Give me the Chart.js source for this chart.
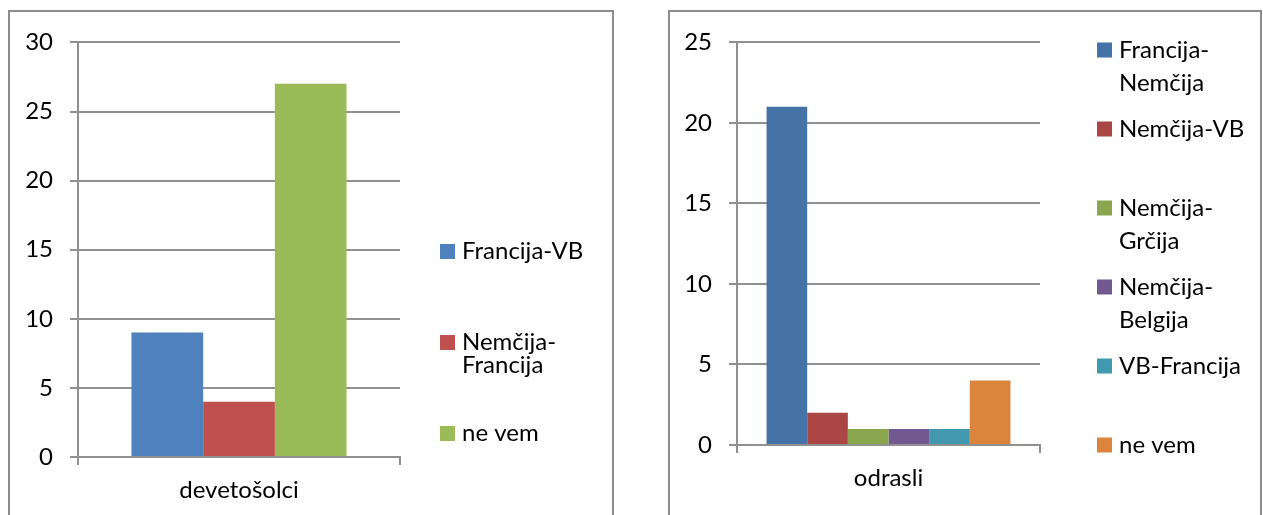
<!DOCTYPE html>
<html>
<head>
<meta charset="utf-8">
<script src="https://cdn.jsdelivr.net/npm/chart.js@4"></script>
<style>
body { margin: 0; background: #fff; width: 1263px; height: 515px; overflow: hidden; position: relative; }
.box { position: absolute; top: 10px; height: 520px; border: 2px solid #8c8c8c; border-bottom: none; box-sizing: border-box; }
#boxL { left: 8px; width: 606px; }
#boxR { left: 668px; width: 594px; }
canvas { position: absolute; }
</style>
</head>
<body>
<div class="box" id="boxL"></div>
<div class="box" id="boxR"></div>
<canvas id="chartL" style="left:10px;top:11px" width="603" height="504"></canvas>
<canvas id="chartR" style="left:670px;top:11px" width="590" height="504"></canvas>
<script>
// left chart: devetošolci
const categoriesL = ['devetošolci'];
const seriesL = ['Francija-VB', 'Nemčija-Francija', 'ne vem'];
const valuesL = [9, 4, 27];
const colorsL = ['#4F81BD', '#C0504D', '#9BBB59'];

// right chart: odrasli
const categoriesR = ['odrasli'];
const seriesR = ['Francija-Nemčija', 'Nemčija-VB', 'Nemčija-Grčija', 'Nemčija-Belgija', 'VB-Francija', 'ne vem'];
const valuesR = [21, 2, 1, 1, 1, 4];
const colorsR = ['#4572A7', '#AA4643', '#89A54E', '#71588F', '#4198AF', '#DB843D'];

Chart.defaults.font.family = 'Lato';
Chart.defaults.color = '#000';

const gridColor = '#909090';
const fontSize = 24;

function wrapLabel(ctx, text, maxWidth) {
    if (ctx.measureText(text).width <= maxWidth) return [text];
    const i = text.indexOf('-');
    if (i < 0) return [text];
    return [text.slice(0, i + 1), text.slice(i + 1)];
}

// excel style legend: items spread down the right side
const sideLegend = {
    id: 'sideLegend',
    afterDraw(chart, args, opts) {
        const ctx = chart.ctx;
        ctx.save();
        ctx.font = fontSize + 'px Lato';
        ctx.textBaseline = 'middle';
        ctx.textAlign = 'left';
        chart.data.datasets.forEach((ds, i) => {
            const cy = opts.firstY + i * opts.step;
            ctx.fillStyle = ds.backgroundColor;
            ctx.fillRect(opts.x, cy - 7.5, 15, 15);
            ctx.fillStyle = '#000';
            const lines = wrapLabel(ctx, ds.label, opts.maxWidth);
            lines.forEach((ln, j) => {
                ctx.fillText(ln, opts.x + 22, cy + j * opts.lineHeight);
            });
        });
        ctx.restore();
    }
};

function makeChart(id, categories, series, values, colors, yMax, pad, xHeight, catPct, legend) {
    const datasets = series.map((name, i) => ({
        label: name,
        data: [values[i]],
        backgroundColor: colors[i],
        borderWidth: 0,
        categoryPercentage: catPct,
        barPercentage: 1
    }));
    return new Chart(document.getElementById(id), {
        type: 'bar',
        data: { labels: categories, datasets: datasets },
        plugins: [sideLegend],
        options: {
            responsive: false,
            animation: false,
            layout: { padding: { left: 0, top: pad.top, right: pad.right, bottom: 0 } },
            plugins: {
                legend: { display: false },
                tooltip: { enabled: false },
                sideLegend: legend
            },
            scales: {
                x: {
                    offset: true,
                    grid: { offset: true, drawOnChartArea: false, tickLength: 8, color: gridColor, lineWidth: 2 },
                    border: { display: true, color: gridColor, width: 2 },
                    ticks: { font: { size: fontSize }, padding: 11, color: '#000' },
                    afterFit(scale) { scale.height = xHeight; }
                },
                y: {
                    min: 0,
                    max: yMax,
                    ticks: { stepSize: 5, font: { size: fontSize }, padding: 17, color: '#000' },
                    grid: { color: gridColor, lineWidth: 2, tickLength: 8 },
                    border: { display: true, color: gridColor, width: 2 },
                    afterFit(scale) { scale.width = pad.left; }
                }
            }
        }
    });
}

makeChart('chartL', categoriesL, seriesL, valuesL, colorsL, 30,
    { left: 68, top: 29, right: 213 }, 58, 0.668,
    { x: 430, firstY: 240.5, step: 91, lineHeight: 23, maxWidth: 130 });

makeChart('chartR', categoriesR, seriesR, valuesR, colorsR, 25,
    { left: 67, top: 29, right: 220 }, 70, 0.805,
    { x: 427, firstY: 39, step: 79, lineHeight: 33, maxWidth: 130 });
</script>
</body>
</html>
